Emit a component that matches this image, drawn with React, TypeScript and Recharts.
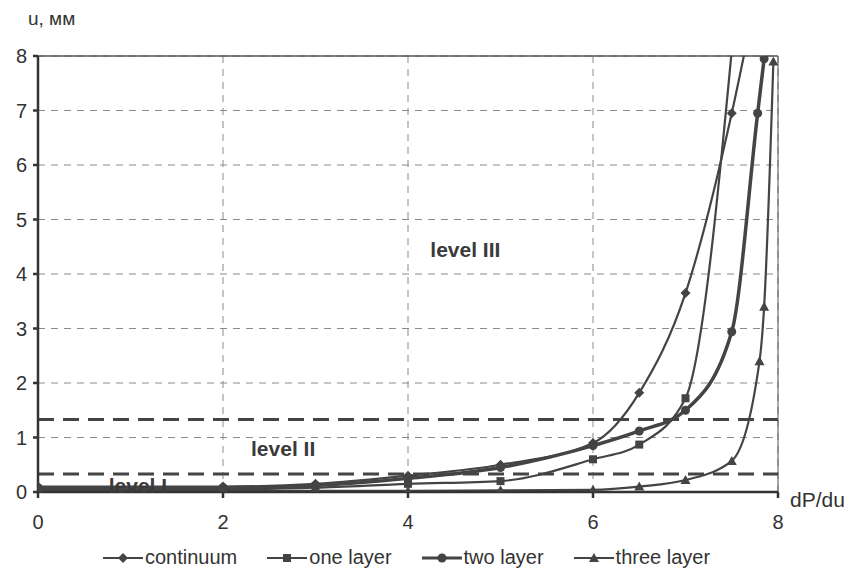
import { LineChart, Line, XAxis, YAxis, CartesianGrid, ReferenceLine, ReferenceDot } from 'recharts'

// dP/du values for each series
const continuumX = [0, 2, 3, 4, 5, 6, 6.5, 7, 7.5, 7.75]
const continuumY = [0.1, 0.1, 0.15, 0.3, 0.5, 0.9, 1.82, 3.65, 6.95, 9]
const oneLayerX = [0, 2, 3, 4, 5, 6, 6.5, 7, 7.55]
const oneLayerY = [0.05, 0.05, 0.08, 0.15, 0.2, 0.6, 0.87, 1.72, 9]
const twoLayerX = [0, 2, 3, 4, 5, 6, 6.5, 7, 7.5, 7.78, 7.85]
const twoLayerY = [0.08, 0.08, 0.12, 0.25, 0.45, 0.85, 1.12, 1.5, 2.94, 6.95, 7.95]
const threeLayerX = [0, 2, 3, 4, 5, 6, 6.5, 7, 7.5, 7.8, 7.85, 7.95]
const threeLayerY = [0.02, 0.02, 0.02, 0.02, 0.03, 0.04, 0.1, 0.22, 0.57, 2.4, 3.4, 7.9]

const xTicks = [0, 2, 4, 6, 8]
const yTicks = [0, 1, 2, 3, 4, 5, 6, 7, 8]
const levelLines = [0.33, 1.33]

const seriesNames = ['continuum', 'one layer', 'two layer', 'three layer']
const seriesShapes = ['diamond', 'square', 'circle', 'triangle']

const toPoints = (xs: number[], ys: number[]) => xs.map((x, i) => ({ x, y: ys[i] }))

const series = [
  toPoints(continuumX, continuumY),
  toPoints(oneLayerX, oneLayerY),
  toPoints(twoLayerX, twoLayerY),
  toPoints(threeLayerX, threeLayerY),
]

const ink = '#444'
const font = '"Liberation Sans", Arial, sans-serif'

function Marker({ cx, cy, shape, size = 5 }: { cx: number; cy: number; shape: string; size?: number }) {
  if (cx == null || cy == null) return null
  if (shape === 'diamond')
    return <polygon points={`${cx},${cy - size} ${cx + size},${cy} ${cx},${cy + size} ${cx - size},${cy}`} fill={ink} />
  if (shape === 'square')
    return <rect x={cx - size + 1} y={cy - size + 1} width={2 * size - 2} height={2 * size - 2} fill={ink} />
  if (shape === 'circle') return <circle cx={cx} cy={cy} r={size - 0.5} fill={ink} />
  return <polygon points={`${cx},${cy - size} ${cx + size},${cy + size - 1} ${cx - size},${cy + size - 1}`} fill={ink} />
}

function LegendBox() {
  return (
    <div
      style={{
        position: 'absolute',
        left: 103,
        top: 546,
        display: 'flex',
        gap: 30,
        fontFamily: font,
        fontSize: 20,
        color: '#333',
      }}
    >
      {seriesNames.map((name, i) => (
        <div key={name} style={{ display: 'flex', alignItems: 'center' }}>
          <svg width={40} height={14} style={{ marginRight: 2 }}>
            <line x1={0} y1={7} x2={40} y2={7} stroke={ink} strokeWidth={i === 2 ? 3 : 2} />
            <Marker cx={20} cy={7} shape={seriesShapes[i]} size={5} />
          </svg>
          <span>{name}</span>
        </div>
      ))}
    </div>
  )
}

const levelLabel = { fill: '#3a3a3a', fontSize: 21, fontWeight: 'bold', fontFamily: font }

export default function App() {
  return (
    <div style={{ position: 'absolute', left: 0, top: 0, width: 848, height: 576, background: '#fff' }}>
      <LineChart width={848} height={576} margin={{ top: 56, right: 70, left: 6, bottom: 50 }}>
        <CartesianGrid stroke="#8a8a8a" strokeDasharray="7 6" strokeWidth={1} />
        <XAxis
          type="number"
          dataKey="x"
          domain={[0, 8]}
          ticks={xTicks}
          allowDataOverflow
          stroke="#333"
          strokeWidth={2.5}
          tick={{ fontSize: 20, fill: '#333', fontFamily: font }}
          tickSize={6}
          tickMargin={17}
          height={34}
        />
        <YAxis
          type="number"
          dataKey="y"
          domain={[0, 8]}
          ticks={yTicks}
          allowDataOverflow
          stroke="#333"
          strokeWidth={2.5}
          tick={{ fontSize: 20, fill: '#333', fontFamily: font }}
          tickSize={5}
          tickMargin={6}
          width={32}
        />
        <ReferenceLine y={8} stroke="#555" strokeWidth={1.5} />
        <ReferenceLine x={8} stroke="#555" strokeWidth={1} />
        {levelLines.map((v) => (
          <ReferenceLine key={v} y={v} stroke="#444" strokeWidth={3} strokeDasharray="16 9" />
        ))}
        <ReferenceDot x={4.62} y={4.44} r={0} label={{ value: 'level III', ...levelLabel }} />
        <ReferenceDot x={2.65} y={0.79} r={0} label={{ value: 'level II', ...levelLabel }} />
        <ReferenceDot x={1.08} y={0.12} r={0} label={{ value: 'level I', ...levelLabel }} />
        {series.map((data, i) => (
          <Line
            key={seriesNames[i]}
            data={data}
            dataKey="y"
            name={seriesNames[i]}
            type="monotone"
            stroke={ink}
            strokeWidth={i === 2 ? 3.5 : 2.2}
            isAnimationActive={false}
            dot={(p: any) => <Marker key={`${i}-${p.index}`} cx={p.cx} cy={p.cy} shape={seriesShapes[i]} />}
            activeDot={false}
          />
        ))}
      </LineChart>
      <LegendBox />
      <div style={{ position: 'absolute', left: 28, top: 8, fontFamily: font, fontSize: 19, color: '#333' }}>u, мм</div>
      <div style={{ position: 'absolute', left: 790, top: 488, fontFamily: font, fontSize: 21, color: '#333' }}>dP/du</div>
    </div>
  )
}
